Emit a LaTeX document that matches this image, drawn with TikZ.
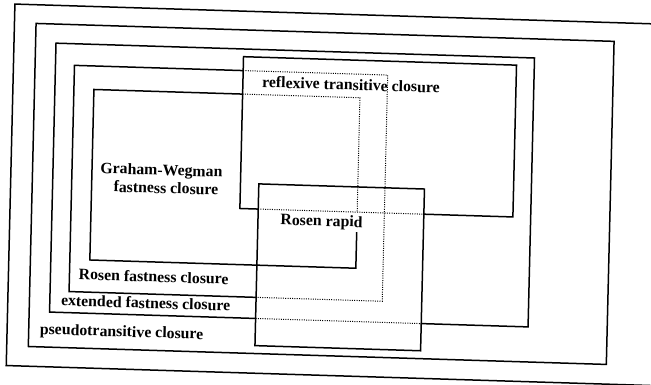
\documentclass[tikz,border=0pt]{standalone}
\usepackage{fontspec}
\setmainfont{Liberation Serif}
\begin{document}
\begin{tikzpicture}[x=1pt,y=-1pt,
  box/.style={line width=1.5pt, line join=miter},
  dotline/.style={line width=1pt, dash pattern=on 1pt off 1.3pt},
  lbl/.style={font=\fontsize{15.8}{19}\selectfont\bfseries, inner sep=0pt, anchor=base west, transform shape}]
\path[use as bounding box] (0,0) rectangle (651,385);
\begin{scope}
\clip (0,0) rectangle (651,385);
\begin{scope}[cm={1,-0.031,0.024,1,(0,0)}]
% outer frame
\coordinate (A1) at (15,3.6);   \coordinate (A2) at (672,365);
\draw[box] (A1) rectangle (A2);
% pseudotransitive closure
\coordinate (B1) at (36.6,22.3); \coordinate (B2) at (614.5,345.3);
\draw[box] (B1) rectangle (B2);
% extended fastness closure
\draw[box] (263,310.3) -- (57,310.3) -- (57,41.4) -- (535.5,41.4) -- (535.5,310.3) -- (428.6,310.3);
\draw[dotline] (263,310.3) -- (428.6,310.3);
% Rosen fastness closure
\draw[box] (244.7,63) -- (76,63) -- (76,289.2) -- (263,289.2);
\draw[dotline] (244.7,63) -- (389.2,63) -- (389.2,289.2) -- (263,289.2);
% Graham-Wegman fastness closure
\draw[box] (244.7,86.5) -- (96,86.5) -- (96,257) -- (362,257) -- (362,221);
\draw[dotline] (244.7,86.5) -- (362,86.5) -- (362,200.9);
% reflexive transitive closure
\draw[box] (263,200.9) -- (244.7,200.9) -- (244.7,49.1) -- (517.7,49.1) -- (517.7,200.9) -- (428.6,200.9);
\draw[dotline] (263,200.9) -- (428.6,200.9);
% Rosen rapid
\coordinate (R1) at (263,175.7); \coordinate (R2) at (428.6,337.4);
\draw[box] (R1) rectangle (R2);
% labels
\node[lbl] (rtc) at (263.8,79.2) {reflexive transitive closure};
\node[lbl] (gw1) at (104.2,170) {Graham-Wegman};
\node[lbl] (gw2) at (117.9,188.2) {fastness closure};
\node[lbl] (rr) at (285.4,216) {Rosen rapid};
\node[lbl] (rfc) at (85.1,277) {Rosen fastness closure};
\node[lbl] (efc) at (68.1,303.5) {extended fastness closure};
\node[lbl] (ptc) at (47.6,332.7) {pseudotransitive closure};
\end{scope}
\end{scope}
\end{tikzpicture}
\end{document}
